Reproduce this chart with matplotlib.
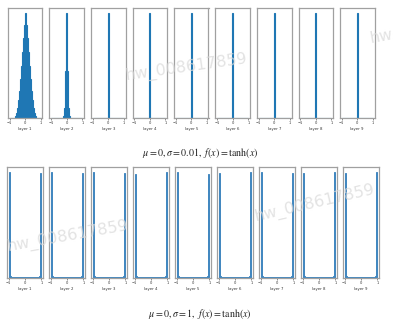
import matplotlib.pyplot as plt
import numpy as np

plt.rcParams['mathtext.fontset'] = 'stix'

# histogram bins (31 bins over [-1, 1], one bin centred on 0)
n_bins = 31
edges = np.linspace(-1, 1, n_bins + 1)
centers = (edges[:-1] + edges[1:]) / 2

layer_names = ['layer 1', 'layer 2', 'layer 3', 'layer 4', 'layer 5',
               'layer 6', 'layer 7', 'layer 8', 'layer 9']

# sigma = 0.01 : relative bin heights around the centre bin
layer1_small = [0.02, 0.05, 0.10, 0.17, 0.26, 0.37, 0.50, 0.63, 0.76, 0.89, 1.0,
                0.89, 0.76, 0.63, 0.50, 0.37, 0.26, 0.17, 0.10, 0.05, 0.02]
layer2_small = [0.02, 0.10, 0.45, 1.0, 0.45, 0.10, 0.02]
deep_small = [1.0]

# sigma = 1 : relative heights at the outer bins and a small floor between
edge_left = [1.0, 0.98, 0.99, 0.97, 0.99, 0.98, 0.99, 0.98, 0.97]
edge_right = [0.99, 0.97, 0.98, 0.99, 0.97, 0.99, 0.98, 0.99, 0.98]
near_edge = [0.02, 0.02, 0.02, 0.02, 0.02, 0.02, 0.02, 0.02, 0.02]
middle_floor = [0.006, 0.006, 0.006, 0.006, 0.006, 0.006, 0.006, 0.006, 0.006]

titles = [r'$\mu = 0, \sigma = 0.01,\ f(x) = \mathrm{tanh}(x)$',
          r'$\mu = 0, \sigma = 1,\ f(x) = \mathrm{tanh}(x)$']

W, H = 394, 330
fig = plt.figure(figsize=(W / 100, H / 100), dpi=100)


def centred(vals):
    w = np.zeros(n_bins)
    mid = n_bins // 2
    half = len(vals) // 2
    w[mid - half:mid - half + len(vals)] = vals
    return w


def style(ax, name):
    ax.set_xlim(-1.1, 1.1)
    ax.set_xticks([-1, 0, 1])
    ax.set_xticklabels(['\u22121', '0', '1'])
    ax.set_yticks([])
    ax.tick_params(axis='x', labelsize=2.6, length=1.2, width=0.4, pad=1, colors='#333333')
    ax.set_xlabel(name, fontsize=2.8, labelpad=1.5, color='#333333')
    for s in ax.spines.values():
        s.set_color('#a0a0a0')
        s.set_linewidth(0.9)


# top row
for i, name in enumerate(layer_names):
    ax = fig.add_axes([(8 + i * 41.5) / W, 1 - 118 / H, 34.5 / W, 110 / H])
    if i == 0:
        vals = layer1_small
    elif i == 1:
        vals = layer2_small
    else:
        vals = deep_small
    ax.hist(centers, bins=edges, weights=centred(vals), color='#1f77b4',
            edgecolor='#1f77b4', linewidth=0.8)
    style(ax, name)

# bottom row
for i, name in enumerate(layer_names):
    ax = fig.add_axes([(7 + i * 42) / W, 1 - 278 / H, 36 / W, 111 / H])
    w = np.full(n_bins, middle_floor[i])
    w[0] = edge_left[i]
    w[-1] = edge_right[i]
    w[1] = near_edge[i]
    w[-2] = near_edge[i]
    ax.hist(centers, bins=edges, weights=w, color='#8fb3d6',
            edgecolor='#3f86bf', linewidth=0.7)
    style(ax, name)

fig.text(200 / W, 1 - 153 / H, titles[0], ha='center', va='center', fontsize=7.2, color='#222222')
fig.text(200 / W, 1 - 314 / H, titles[1], ha='center', va='center', fontsize=7.2, color='#222222')

# watermarks
wm = 'hw_008617859'
wm_style = dict(ha='center', va='center', fontsize=11.5, color='#dadada', alpha=0.75, zorder=10)
fig.text(186 / W, 1 - 67 / H, wm, rotation=8, **wm_style)
fig.text(68 / W, 1 - 236 / H, wm, rotation=10, **wm_style)
fig.text(315 / W, 1 - 203 / H, wm, rotation=13, **wm_style)
fig.text(381 / W, 1 - 37 / H, 'hw', rotation=10, **wm_style)

fig.savefig('out.png', dpi=100)
